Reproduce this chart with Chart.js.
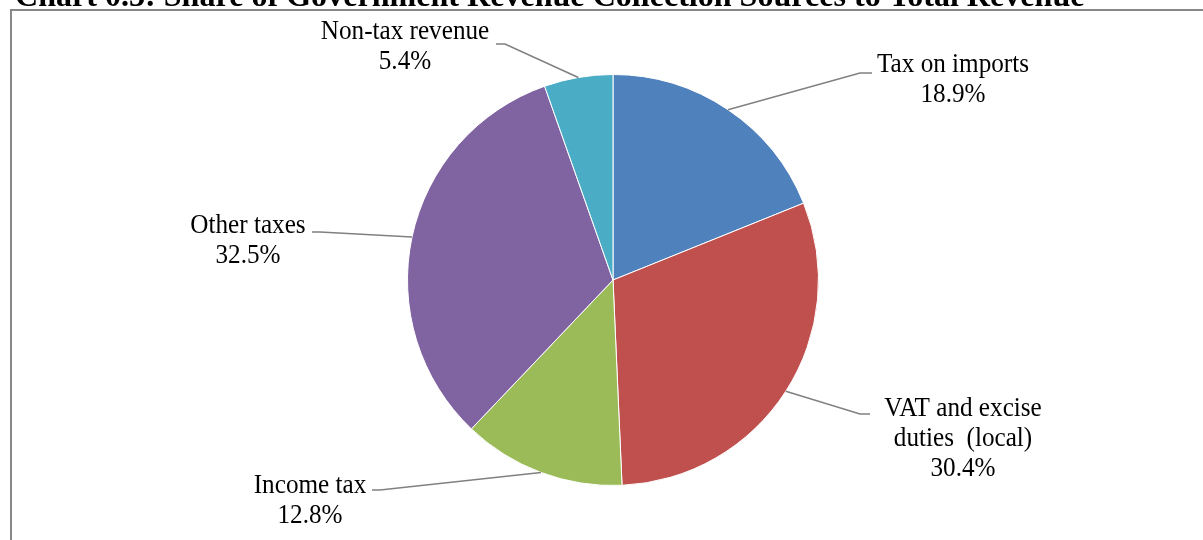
<!DOCTYPE html>
<html>
<head>
<meta charset="utf-8">
<script src="https://cdn.jsdelivr.net/npm/chart.js@4"></script>
<style>
  html, body { margin: 0; padding: 0; background: #fff; }
  #wrap { width: 1203px; height: 540px; position: relative; }
</style>
</head>
<body>
<div id="wrap"><canvas id="migrafica"></canvas></div>
<script>
const titleText = "Chart 0.3: Share of Government Revenue Collection Sources to Total Revenue";
const categories = ["Tax on imports", "VAT and excise duties (local)", "Income tax", "Other taxes", "Non-tax revenue"];
const labelLines = [["Tax on imports"], ["VAT and excise", "duties  (local)"], ["Income tax"], ["Other taxes"], ["Non-tax revenue"]];
const shares = [18.9, 30.4, 12.8, 32.5, 5.4];
const colors = ['#4F81BD', '#C0504D', '#9BBB59', '#8064A2', '#4BACC6'];

// where each label sits (centre x, first line y) and the elbow of its leader line
const labelPos = [
    { x: 953, y: 65, elbow: [860, 73], end: [872, 73] },
    { x: 963, y: 409, elbow: [860, 414], end: [870, 414] },
    { x: 310, y: 486, elbow: [380, 490], end: [372, 490] },
    { x: 248, y: 226, elbow: [320, 232], end: [312, 232] },
    { x: 405, y: 32, elbow: [505, 44], end: [496, 44] }
];

const frameAndLabels = {
    id: 'frameAndLabels',
    afterDraw(chart) {
        const ctx = chart.ctx;
        ctx.save();
        // outer frame
        ctx.strokeStyle = '#878787';
        ctx.lineWidth = 2;
        ctx.strokeRect(11, 10, 1400, 700);

        // cut-off title
        ctx.fillStyle = '#000';
        ctx.font = 'bold 28px "Liberation Serif"';
        let w = ctx.measureText(titleText).width;
        let size = 28 * 1070 / w;
        ctx.font = 'bold ' + size.toFixed(1) + 'px "Liberation Serif"';
        ctx.textAlign = 'left';
        ctx.textBaseline = 'alphabetic';
        ctx.fillText(titleText, 15, 6);

        // leader lines and labels
        const meta = chart.getDatasetMeta(0);
        meta.data.forEach(function (arc, i) {
            const p = labelPos[i];
            const mid = (arc.startAngle + arc.endAngle) / 2;
            const ax = arc.x + Math.cos(mid) * arc.outerRadius;
            const ay = arc.y + Math.sin(mid) * arc.outerRadius;
            ctx.strokeStyle = '#808080';
            ctx.lineWidth = 1.5;
            ctx.beginPath();
            ctx.moveTo(ax, ay);
            ctx.lineTo(p.elbow[0], p.elbow[1]);
            ctx.lineTo(p.end[0], p.end[1]);
            ctx.stroke();

            ctx.fillStyle = '#000';
            const lines = labelLines[i].concat([shares[i].toFixed(1) + '%']);
            lines.forEach(function (t, k) {
                // slightly condensed, like the original
                ctx.save();
                ctx.translate(p.x, p.y + k * 30);
                ctx.scale(0.95, 1);
                ctx.font = '26.5px "Liberation Serif"';
                ctx.textAlign = 'center';
                ctx.textBaseline = 'middle';
                ctx.fillText(t, 0, 0);
                ctx.restore();
            });
        });
        ctx.restore();
    }
};

document.addEventListener("DOMContentLoaded", function () {
    let micanvas = document.getElementById("migrafica").getContext("2d");

    new Chart(micanvas, {
        type: "pie",
        data: {
            labels: categories,
            datasets: [{
                data: shares,
                backgroundColor: colors,
                borderColor: '#ffffff',
                borderWidth: 1
            }]
        },
        options: {
            responsive: true,
            maintainAspectRatio: false,
            animation: false,
            layout: { padding: { top: 74, bottom: 54, left: 200, right: 177 } },
            plugins: {
                legend: { display: false },
                tooltip: { enabled: false }
            }
        },
        plugins: [frameAndLabels]
    });
});
</script>
</body>
</html>
